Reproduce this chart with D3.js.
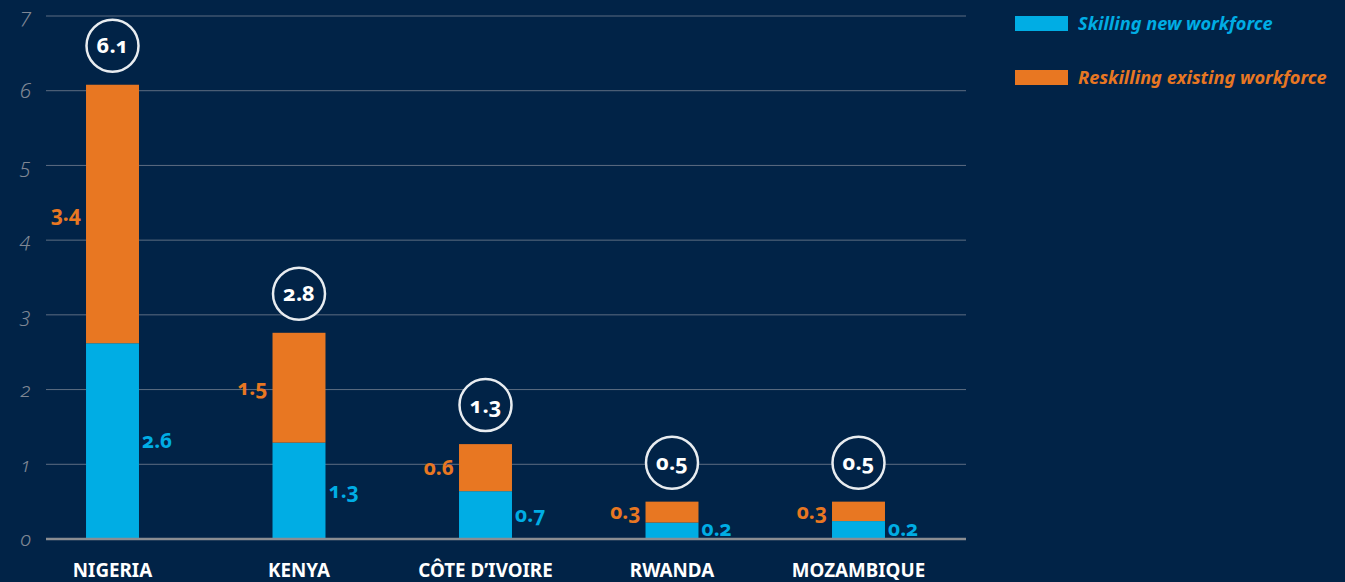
<!DOCTYPE html>
<html><head><meta charset="utf-8">
<script src="https://cdn.jsdelivr.net/npm/d3@7"></script>
<style>
html,body{margin:0;padding:0;background:#012347;}
svg{display:block;}
text{font-family:"Noto Sans","Open Sans",sans-serif;}
.num{font-variant-numeric:oldstyle-nums;font-feature-settings:"onum" 1;}
</style></head><body>
<svg id="chart" width="1345" height="582"></svg>
<script>
const categories = ["NIGERIA","KENYA","CÔTE D’IVOIRE","RWANDA","MOZAMBIQUE"];
const skillingNew = [2.62, 1.29, 0.64, 0.22, 0.24];
const reskillingExisting = [3.46, 1.47, 0.63, 0.28, 0.26];
const totalLabels = ["6.1","2.8","1.3","0.5","0.5"];
const newLabels = ["2.6","1.3","0.7","0.2","0.2"];
const existingLabels = ["3.4","1.5","0.6","0.3","0.3"];
const yTicks = [0,1,2,3,4,5,6,7];
const seriesNames = ["Skilling new workforce","Reskilling existing workforce"];

const BLUE = "#00ade4", ORANGE = "#e87722", BG = "#012347";
const svg = d3.select("#chart");
svg.append("rect").attr("width",1345).attr("height",582).attr("fill",BG);

const x = d3.scaleBand().domain(categories).range([19.25, 951.75]).paddingInner(0.716).paddingOuter(0.358);
const y = d3.scaleLinear().domain([0,7]).range([539,16]);

// gridlines
svg.append("g").selectAll("line").data(yTicks.filter(d=>d>0)).join("line")
  .attr("x1",46).attr("x2",966).attr("y1",d=>y(d)).attr("y2",d=>y(d))
  .attr("stroke","#5d6d82").attr("stroke-width",1);

// y tick labels
svg.append("g").selectAll("text").data(yTicks).join("text")
  .attr("class","num")
  .attr("x",31).attr("y",d=>y(d)).attr("dy","0.35em")
  .attr("text-anchor","end").attr("font-size",21).attr("font-style","italic")
  .attr("font-weight",300).attr("fill","#7f8794").text(d=>d);

const data = categories.map((c,i)=>({c, a:skillingNew[i], b:reskillingExisting[i], i}));

// bars
svg.append("g").selectAll("rect").data(data).join("rect")
  .attr("x",d=>x(d.c)).attr("width",x.bandwidth())
  .attr("y",d=>y(d.a)).attr("height",d=>y(0)-y(d.a)).attr("fill",BLUE);
svg.append("g").selectAll("rect").data(data).join("rect")
  .attr("x",d=>x(d.c)).attr("width",x.bandwidth())
  .attr("y",d=>y(d.a+d.b)).attr("height",d=>y(d.a)-y(d.a+d.b)).attr("fill",ORANGE);

// baseline
svg.append("line").attr("x1",46).attr("x2",966).attr("y1",y(0)).attr("y2",y(0))
  .attr("stroke","#8a8d92").attr("stroke-width",2.5);

// blue labels
svg.append("g").selectAll("text").data(data).join("text")
  .attr("class","num")
  .attr("x",d=>x(d.c)+x.bandwidth()+3).attr("y",d=>Math.min((y(d.a)+y(0))/2, y(0)-10)).attr("dy","0.35em")
  .attr("font-size",21).attr("font-weight",700).attr("fill",BLUE).text(d=>newLabels[d.i]);
// orange labels
svg.append("g").selectAll("text").data(data).join("text")
  .attr("class","num")
  .attr("x",d=>x(d.c)-5).attr("y",d=>(y(d.a)+y(d.a+d.b))/2).attr("dy","0.35em")
  .attr("text-anchor","end")
  .attr("font-size",21).attr("font-weight",700).attr("fill",ORANGE).text(d=>existingLabels[d.i]);

// total circles
const tg = svg.append("g").selectAll("g").data(data).join("g")
  .attr("transform",d=>`translate(${x(d.c)+x.bandwidth()/2},${y(d.a+d.b)-39})`);
tg.append("circle").attr("r",26).attr("fill",BG).attr("stroke","#e8ecf0").attr("stroke-width",2.5);
tg.append("text").attr("class","num").attr("text-anchor","middle").attr("dy","0.35em")
  .attr("font-size",22).attr("font-weight",700).attr("fill","#ffffff").text(d=>totalLabels[d.i]);

// x labels
svg.append("g").selectAll("text").data(categories).join("text")
  .attr("x",d=>x(d)+x.bandwidth()/2).attr("y",570.5).attr("dy","0.35em")
  .attr("text-anchor","middle").attr("font-size",18.8).attr("font-weight",700)
  .attr("fill","#ffffff").text(d=>d);

// legend
const lg = svg.append("g").selectAll("g").data(seriesNames).join("g")
  .attr("transform",(d,i)=>`translate(1015,${16+i*54})`);
lg.append("rect").attr("width",53).attr("height",15).attr("fill",(d,i)=>i?ORANGE:BLUE);
lg.append("text").attr("x",63).attr("y",7.5).attr("dy","0.35em")
  .attr("font-size",18.2).attr("font-weight",700).attr("font-style","italic")
  .attr("fill",(d,i)=>i?ORANGE:BLUE).text(d=>d);
</script>
</body></html>
